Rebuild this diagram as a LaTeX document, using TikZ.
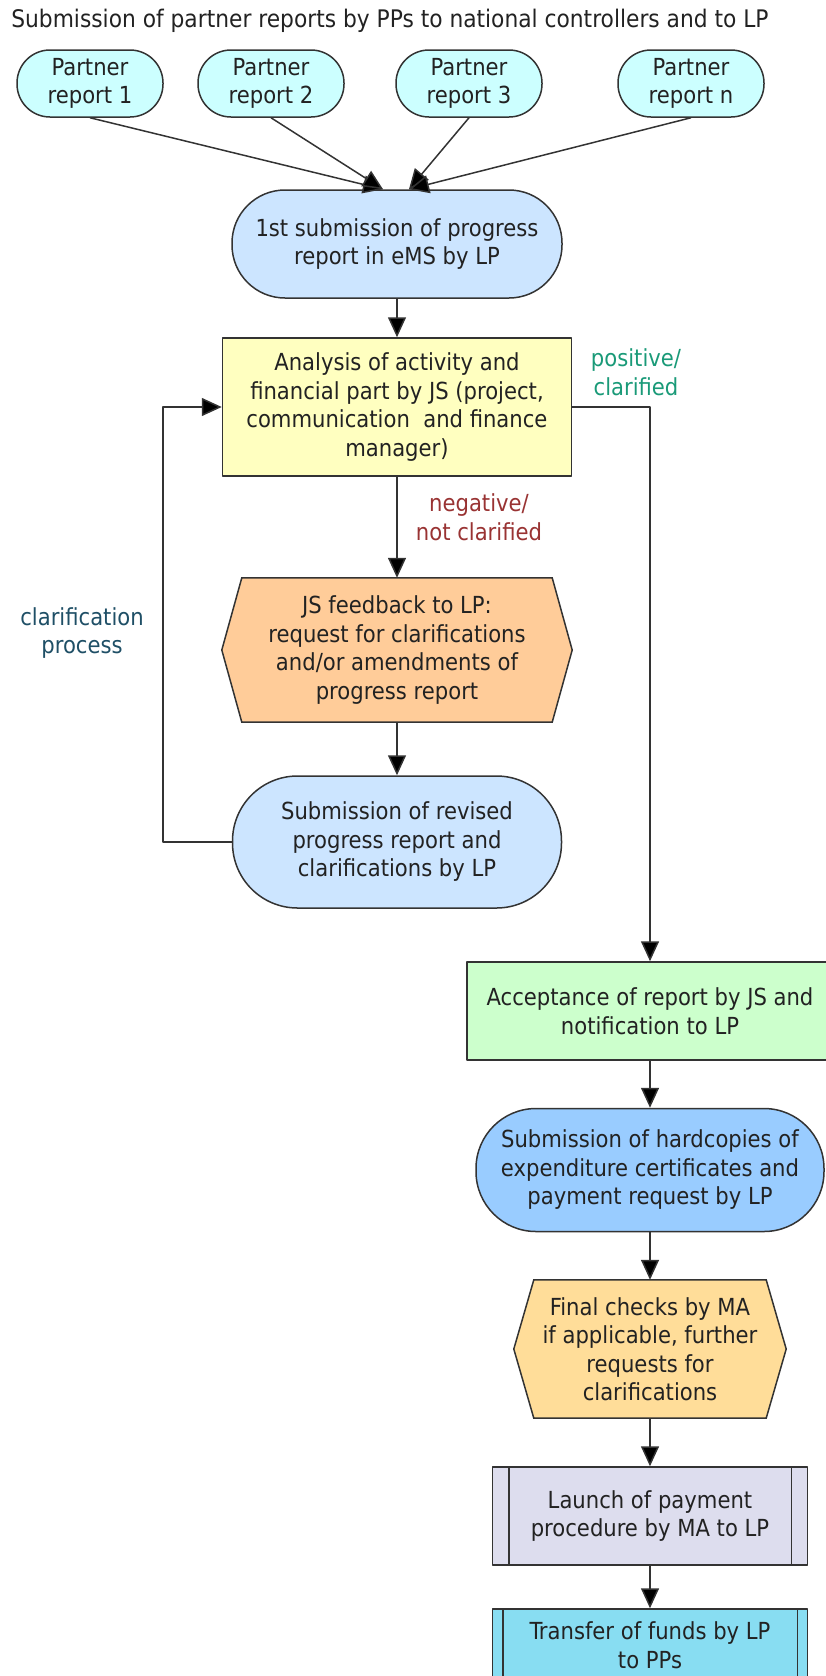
\documentclass[tikz,border=0pt]{standalone}
\usepackage{fontspec}
\setmainfont{DejaVu Sans Condensed}
\usetikzlibrary{arrows.meta,backgrounds}
\definecolor{partnercol}{HTML}{CCFFFF}
\definecolor{lpblue}{HTML}{CCE5FF}
\definecolor{jsyellow}{HTML}{FFFFC0}
\definecolor{feedorange}{HTML}{FFCC99}
\definecolor{acceptgreen}{HTML}{CCFFCC}
\definecolor{hardblue}{HTML}{99CCFF}
\definecolor{checkorange}{HTML}{FFDD99}
\definecolor{launchgrey}{HTML}{DDDDEE}
\definecolor{transfercyan}{HTML}{88DDF2}
\definecolor{linecol}{HTML}{333333}
\definecolor{txtcol}{HTML}{222222}
\definecolor{posgreen}{HTML}{1A9A78}
\definecolor{negred}{HTML}{993333}
\definecolor{clarblue}{HTML}{1F4F66}
\tikzset{
  box/.style={draw=linecol,line width=1.5pt,inner sep=0pt,align=center,text=txtcol},
  stadium/.style={box,rounded corners=#1},
  hexbox/.style={inner sep=0pt,align=center,text=txtcol},
  arr/.style={draw=linecol,line width=1.5pt,-{Triangle[width=18pt,length=20pt,fill=black]}},
  lbl/.style={align=center}
}
\begin{document}
\begin{tikzpicture}[x=1pt,y=-1pt,line join=round,font=\fontsize{23.5}{28.5}\selectfont]
  \useasboundingbox (0,0) rectangle (825,1676);
  \def\hexa#1#2#3{\path[draw=linecol,line width=1.5pt,fill=#2]
    ([xshift=#3]#1.north west) -- ([xshift=-#3]#1.north east) -- (#1.east)
    -- ([xshift=-#3]#1.south east) -- ([xshift=#3]#1.south west) -- (#1.west) -- cycle;}
  \node[text=txtcol,font=\fontsize{24.2}{29}\selectfont] (title) at (390,21) {Submission of partner reports by PPs to national controllers and to LP};
  % partner reports
  \foreach \n/\x/\t in {1/90/1,2/271/2,3/469/3,4/691/n}{
    \node[stadium=33pt,fill=partnercol,minimum width=146pt,minimum height=67pt] (p\n) at (\x,83.5) {Partner\\report \t};}
  \node[stadium=53pt,fill=lpblue,minimum width=330pt,minimum height=108pt] (first) at (397,244) {1st submission of progress\\report in eMS by LP};
  \foreach \n in {1,2}{\draw[arr] (p\n.south) -- ([xshift=-14pt]first.north);}
  \foreach \n in {3,4}{\draw[arr] (p\n.south) -- ([xshift=12pt]first.north);}
  \node[box,fill=jsyellow,minimum width=349pt,minimum height=138pt] (analysis) at (397,407) {Analysis of activity and\\financial part by JS (project,\\communication\ \ and finance\\manager)};
  \node[hexbox,minimum width=350pt,minimum height=144pt] (feedback) at (397,650) {JS feedback to LP:\\request for clarifications\\and/or amendments of\\progress report};
  \node[stadium=65pt,fill=lpblue,minimum width=329pt,minimum height=132pt] (revised) at (397,842) {Submission of revised\\progress report and\\clarifications by LP};
  \node[box,fill=acceptgreen,minimum width=366pt,minimum height=98pt] (accept) at (650,1011) {Acceptance of report by JS and\\notification to LP};
  \node[stadium=60pt,fill=hardblue,minimum width=348pt,minimum height=123pt] (hard) at (650,1170) {Submission of hardcopies of\\expenditure certificates and\\payment request by LP};
  \node[hexbox,minimum width=272pt,minimum height=138pt] (checks) at (650,1349) {Final checks by MA\\if applicable, further\\requests for\\clarifications};
  \node[box,fill=launchgrey,minimum width=315pt,minimum height=98pt] (launch) at (650,1516) {Launch of payment\\procedure by MA to LP};
  \node[box,fill=transfercyan,minimum width=315pt,minimum height=72pt] (transfer) at (650,1645) {Transfer of funds by LP\\to PPs};
  \draw[linecol,line width=1.5pt] ([xshift=17pt]launch.north west) -- ([xshift=17pt]launch.south west)
    ([xshift=-17pt]launch.north east) -- ([xshift=-17pt]launch.south east);
  \draw[linecol,line width=1.5pt] ([xshift=11pt]transfer.north west) -- ([xshift=11pt]transfer.south west)
    ([xshift=-11pt]transfer.north east) -- ([xshift=-11pt]transfer.south east);
  \begin{scope}[on background layer]
    \hexa{feedback}{feedorange}{20pt}
    \hexa{checks}{checkorange}{20pt}
  \end{scope}
  % labels
  \node[lbl,text=posgreen] (pos) at (636,372) {positive/\\clarified};
  \node[lbl,text=negred] (neg) at (479,517) {negative/\\not clarified};
  \node[lbl,text=clarblue] (clar) at (82,633) {clarification\\process};
  % connectors
  \draw[arr] (first.south) -- (analysis.north);
  \draw[arr] (analysis.south) -- (feedback.north);
  \draw[arr] (feedback.south) -- (revised.north);
  \draw[arr] (revised.west) -- ++(-69pt,0) |- (analysis.west);
  \draw[arr] (analysis.east) -| (accept.north);
  \draw[arr] (accept.south) -- (hard.north);
  \draw[arr] (hard.south) -- (checks.north);
  \draw[arr] (checks.south) -- (launch.north);
  \draw[arr] (launch.south) -- (transfer.north);
\end{tikzpicture}
\end{document}
